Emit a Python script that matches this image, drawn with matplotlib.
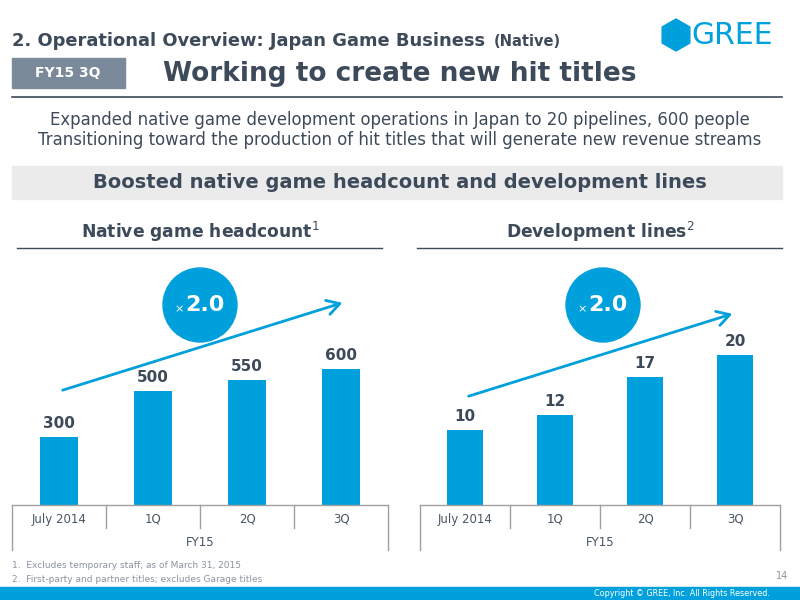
import matplotlib.pyplot as plt
from matplotlib.patches import Rectangle, Circle, RegularPolygon, FancyArrowPatch

# data
categories = ["July 2014", "1Q", "2Q", "3Q"]
fiscal_label = "FY15"
headcount = [300, 500, 550, 600]
dev_lines = [10, 12, 17, 20]

BLUE = "#00a0dc"
DARK = "#3d4a5a"
GRAY = "#7b8a9a"

W, H = 800, 600
fig = plt.figure(figsize=(8, 6), dpi=100)

# overlay axes in pixel coords for the slide furniture
ov = fig.add_axes([0, 0, 1, 1])
ov.set_xlim(0, W)
ov.set_ylim(H, 0)
ov.axis("off")

# header
ov.text(12, 41, "2. Operational Overview: Japan Game Business", fontsize=12.9, fontweight="bold",
        color=DARK, va="center", ha="left")
ov.text(494, 42, "(Native)", fontsize=10.5, fontweight="bold", color=DARK, va="center", ha="left")

# logo
ov.add_patch(RegularPolygon((676, 35), 6, radius=16, orientation=0, color=BLUE))
ov.text(691, 36, "GREE", fontsize=21.5, color=BLUE, va="center", ha="left")

# FY15 3Q box + title
ov.add_patch(Rectangle((12, 58), 113, 30, color=GRAY))
ov.text(68, 73, "FY15 3Q", fontsize=10, fontweight="bold", color="white", ha="center", va="center")
ov.text(163, 74, "Working to create new hit titles", fontsize=19, fontweight="bold",
        color=DARK, ha="left", va="center")
ov.plot([12, 782], [97, 97], color=DARK, lw=1.2)

# subtitle
ov.text(400, 120, "Expanded native game development operations in Japan to 20 pipelines, 600 people",
        fontsize=11.9, color=DARK, ha="center", va="center")
ov.text(400, 140, "Transitioning toward the production of hit titles that will generate new revenue streams",
        fontsize=11.9, color=DARK, ha="center", va="center")

# gray band
ov.add_patch(Rectangle((12, 166), 770, 33, color="#ebebeb"))
ov.text(400, 183, "Boosted native game headcount and development lines", fontsize=14,
        fontweight="bold", color=DARK, ha="center", va="center")

# chart headers
ov.text(200, 232, "Native game headcount$^{1}$", fontsize=12.3, fontweight="bold", color=DARK,
        ha="center", va="center")
ov.plot([17, 382], [248, 248], color=DARK, lw=1)
ov.text(600, 232, "Development lines$^{2}$", fontsize=12.3, fontweight="bold", color=DARK,
        ha="center", va="center")
ov.plot([417, 782], [248, 248], color=DARK, lw=1)


def bar_panel(x0, x1, values, ymax, arrow, circle):
    ax = fig.add_axes([x0 / W, (H - 505) / H, (x1 - x0) / W, 250 / H])
    xs = range(len(values))
    ax.bar(xs, values, width=0.4, color=BLUE)
    for x, v in zip(xs, values):
        ax.text(x, v + ymax * 0.025, str(v), fontsize=11, fontweight="bold", color=DARK,
                ha="center", va="bottom")
    ax.set_xlim(-0.5, len(values) - 0.5)
    ax.set_ylim(0, ymax)
    ax.axis("off")
    # category table under the bars
    tr = ax.get_xaxis_transform()
    ax.plot([-0.5, len(values) - 0.5], [0, 0], color="#a0a0a0", lw=1, transform=tr, clip_on=False)
    for i in range(len(values) + 1):
        edge = i in (0, len(values))
        ax.plot([i - 0.5, i - 0.5], [0, -0.18 if edge else -0.093], color="#a0a0a0", lw=1,
                transform=tr, clip_on=False)
    for i, c in enumerate(categories):
        ax.text(i, -0.058, c, fontsize=8.5, color="#4a5563", ha="center", va="center",
                transform=tr)
    ax.text((len(values) - 1) / 2, -0.148, fiscal_label, fontsize=8.5,
            color="#4a5563", ha="center", va="center", transform=tr)
    # arrow and circle
    ov.add_patch(FancyArrowPatch(arrow[0], arrow[1], arrowstyle="->,head_length=6,head_width=3.5",
                                 color=BLUE, lw=2, mutation_scale=1.5))
    ov.add_patch(Circle(circle, 37, color=BLUE))
    ov.text(circle[0] - 21, circle[1] + 4, "×", fontsize=8, color="white", ha="center", va="center")
    ov.text(circle[0] + 5, circle[1], "2.0", fontsize=16, fontweight="bold", color="white",
            ha="center", va="center")
    return ax


bar_panel(12, 388, headcount, 1101, ((60, 391), (345, 302)), (200, 305))
bar_panel(420, 780, dev_lines, 33.3, ((466, 397), (735, 313)), (603, 305))

# footnotes
ov.text(12, 566, "1.  Excludes temporary staff; as of March 31, 2015", fontsize=6.5, color="#8a93a0",
        ha="left", va="center")
ov.text(12, 579, "2.  First-party and partner titles; excludes Garage titles", fontsize=6.5,
        color="#8a93a0", ha="left", va="center")
ov.text(788, 576, "14", fontsize=7, color="#8a93a0", ha="right", va="center")

# bottom band
ov.add_patch(Rectangle((0, 587), W, 13, color=BLUE))
ov.text(770, 593.5, "Copyright © GREE, Inc. All Rights Reserved.", fontsize=5.8, color="white",
        ha="right", va="center")

fig.savefig("out.png", dpi=100)
